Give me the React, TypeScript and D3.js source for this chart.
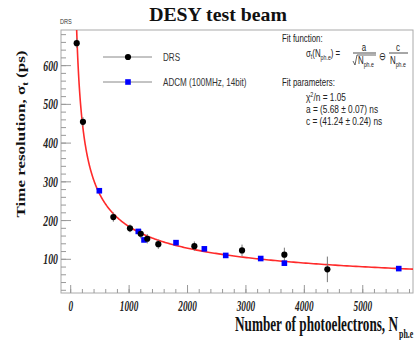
import React from "react";
import * as d3 from "d3";

const W = 416;
const H = 340;

// DRS measurements (N_ph.e, sigma in ps, error in ps)
const drsN = [103, 210, 730, 1015, 1199, 1311, 1500, 2117, 2933, 3658, 4394];
const drsSigma = [658, 455, 209, 180, 166, 153, 139, 134, 123, 112, 74];
const drsErr = [12, 12, 12, 10, 12, 12, 12, 12, 15, 18, 33];

// ADCM measurements
const adcmN = [490, 1157, 1255, 1803, 2288, 2654, 3253, 3658, 5616];
const adcmSigma = [277, 172, 150, 143, 127, 110, 102, 90, 76];

// fit parameters (ps)
const fitA = 5680;
const fitC = 41240;

const xTicks = [0, 1000, 2000, 3000, 4000, 5000];
const yTicks = [100, 200, 300, 400, 500, 600];

const L = 61, R = 413, T = 30, B = 293;

const SText = ({ x, y, sx = 1, children, anchor = "start", size = 10, family = "Liberation Sans, Arial, sans-serif", weight = "normal", style = "normal", fill = "#222" }: any) => (
  <text
    transform={`translate(${x},${y}) scale(${sx},1)`}
    textAnchor={anchor}
    fontSize={size}
    fontFamily={family}
    fontWeight={weight}
    fontStyle={style}
    fill={fill}
  >
    {children}
  </text>
);

export default function App() {
  const x = d3.scaleLinear().domain([-166, 5860]).range([L, R]);
  const y = d3.scaleLinear().domain([13, 692]).range([B, T]);

  const xMinor = d3.range(-200, 5861, 200).filter((v) => v >= -166 && v <= 5860);
  const yMinor = d3.range(20, 692, 20);

  const fitN = d3.range(0, 401).map((i) => 80 * Math.pow(5860 / 80, i / 400));
  const fitLine = d3
    .line<number>()
    .x((n) => x(n))
    .y((n) => y(Math.sqrt((fitA / Math.sqrt(n)) ** 2 + (fitC / n) ** 2)));

  const serif = "Liberation Serif, Times New Roman, serif";
  const sans = "Liberation Sans, Arial, sans-serif";
  const fx = 306;
  const fsx = 0.75;
  const psx = 0.79;

  return (
    <svg width={W} height={H} style={{ position: "absolute", left: 0, top: 0, background: "#fff" }}>
      <defs>
        <clipPath id="frame">
          <rect x={L} y={T} width={R - L} height={B - T} />
        </clipPath>
      </defs>
      <rect x={0} y={0} width={W} height={H} fill="#fff" />

      {/* title */}
      <SText x={218} y={21} sx={1.1} anchor="middle" size={18} family={serif} weight="bold" fill="#111">
        DESY test beam
      </SText>
      <SText x={60} y={24} sx={0.8} size={7} family={sans} fill="#333">DRS</SText>

      {/* frame */}
      <rect x={L} y={T} width={R - L} height={B - T} fill="none" stroke="#aaa" strokeWidth={1} />

      {/* x ticks */}
      {xMinor.map((v) => (
        <line key={"xm" + v} x1={x(v)} x2={x(v)} y1={B} y2={B - 4} stroke="#999" />
      ))}
      {xTicks.map((v) => (
        <line key={"xM" + v} x1={x(v)} x2={x(v)} y1={B} y2={B - 8} stroke="#999" />
      ))}
      {xTicks.map((v) => (
        <SText key={"xl" + v} x={x(v)} y={311} sx={0.66} anchor="middle" size={14} family={serif} weight="bold" style="italic">
          {v}
        </SText>
      ))}

      {/* y ticks */}
      {yMinor.map((v) => (
        <line key={"ym" + v} x1={L} x2={L + 5} y1={y(v)} y2={y(v)} stroke="#999" />
      ))}
      {yTicks.map((v) => (
        <line key={"yM" + v} x1={L} x2={L + 10} y1={y(v)} y2={y(v)} stroke="#999" />
      ))}
      {yTicks.map((v) => (
        <SText key={"yl" + v} x={58} y={y(v) + 5} sx={0.7} anchor="end" size={14} family={serif} weight="bold" style="italic">
          {v}
        </SText>
      ))}

      {/* axis titles */}
      <text
        transform={`translate(25,134) rotate(-90) scale(1,0.68)`}
        textAnchor="middle"
        fontSize={17}
        fontFamily={serif}
        fontWeight="bold"
        fill="#111"
      >
        Time resolution,{"  "}σ
        <tspan fontSize={11} dy={4}>t</tspan>
        <tspan dy={-4}> (ps)</tspan>
      </text>
      <text
        transform={`translate(398,331) scale(0.66,1)`}
        textAnchor="end"
        fontSize={20}
        fontFamily={serif}
        fontWeight="bold"
        fill="#111"
      >
        Number of photoelectrons, N
      </text>
      <SText x={399} y={338} sx={0.66} size={12} family={serif} weight="bold" fill="#111">ph.e</SText>

      {/* fit curve */}
      <g clipPath="url(#frame)">
        <path d={fitLine(fitN) || ""} fill="none" stroke="#ff2a2a" strokeWidth={1.6} />
      </g>

      {/* DRS error bars + markers */}
      {drsN.map((n, i) => (
        <line key={"de" + i} x1={x(n)} x2={x(n)} y1={y(drsSigma[i] - drsErr[i])} y2={y(drsSigma[i] + drsErr[i])} stroke="#777" strokeWidth={1} />
      ))}
      {adcmN.map((n, i) => (
        <rect key={"ad" + i} x={x(n) - 2.8} y={y(adcmSigma[i]) - 2.8} width={5.6} height={5.6} fill="#0000ff" />
      ))}
      {drsN.map((n, i) => (
        <circle key={"dm" + i} cx={x(n)} cy={y(drsSigma[i])} r={3.1} fill="#000" />
      ))}

      {/* legend */}
      <line x1={103} x2={152} y1={57} y2={57} stroke="#888" />
      <circle cx={128} cy={57} r={3.1} fill="#000" />
      <SText x={163} y={60.5} sx={0.81} size={10} family={sans} fill="#333">DRS</SText>
      <line x1={103} x2={152} y1={82} y2={82} stroke="#888" />
      <rect x={125.2} y={79.2} width={5.6} height={5.6} fill="#0000ff" />
      <SText x={163} y={85.5} sx={0.81} size={10} family={sans} fill="#333">ADCM (100MHz, 14bit)</SText>

      {/* fit info */}
      <SText x={282} y={41.5} sx={fsx} size={10.5} family={sans}>Fit function:</SText>
      <text transform={`translate(${fx},57) scale(${fsx},1)`} fontSize={10.5} fontFamily={sans} fill="#222">
        σ<tspan fontSize={7} dy={2}>t</tspan>
        <tspan dy={-2}>(N</tspan>
        <tspan fontSize={7} dy={3}>ph.e</tspan>
        <tspan dy={-3}>) =</tspan>
      </text>
      {/* fraction a / sqrt(N) */}
      <SText x={364} y={51} sx={fsx} anchor="middle" size={10.5} family={sans}>a</SText>
      <line x1={353} x2={376} y1={53} y2={53} stroke="#222" strokeWidth={0.8} />
      <path d="M353,61 L355,65 L357,55 L376,55" fill="none" stroke="#222" strokeWidth={0.7} />
      <text transform={`translate(358,64) scale(${fsx},1)`} fontSize={10.5} fontFamily={sans} fill="#222">
        N<tspan fontSize={7} dy={3}>ph.e</tspan>
      </text>
      <SText x={382} y={60} sx={fsx} anchor="middle" size={10.5} family={sans}>⊖</SText>
      <SText x={398} y={51} sx={fsx} anchor="middle" size={10.5} family={sans}>c</SText>
      <line x1={389} x2={408} y1={53} y2={53} stroke="#222" strokeWidth={0.8} />
      <text transform={`translate(390,64) scale(${fsx},1)`} fontSize={10.5} fontFamily={sans} fill="#222">
        N<tspan fontSize={7} dy={3}>ph.e</tspan>
      </text>

      <SText x={282} y={86} sx={fsx} size={10.5} family={sans}>Fit parameters:</SText>
      <text transform={`translate(${fx},101) scale(${psx},1)`} fontSize={10.5} fontFamily={sans} fill="#222">
        χ<tspan fontSize={7} dy={-4}>2</tspan>
        <tspan dy={4}>/n = 1.05</tspan>
      </text>
      <SText x={fx} y={113} sx={psx} size={10.5} family={sans}>a = (5.68 ± 0.07) ns</SText>
      <SText x={fx} y={125} sx={psx} size={10.5} family={sans}>c = (41.24 ± 0.24) ns</SText>
    </svg>
  );
}
